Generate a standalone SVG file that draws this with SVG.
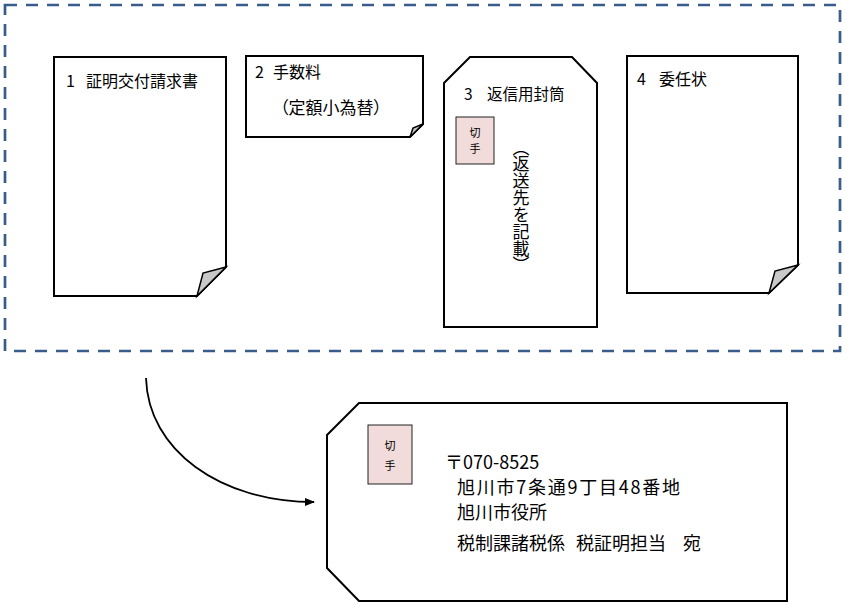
<svg xmlns="http://www.w3.org/2000/svg" width="849" height="613" viewBox="0 0 849 613">
<style>
.doc{fill:#fff;stroke:#000;stroke-width:2;stroke-linejoin:miter}
.fold{fill:#c8c8c8;stroke:#000;stroke-width:1.5;stroke-linejoin:miter}
.stamp{fill:#f2dcdb;stroke:#222;stroke-width:1}
text{font-family:"Noto Sans CJK JP","Noto Sans",sans-serif;fill:#000}
.t{font-size:16px}
.s{font-size:11px;text-anchor:middle}
.a{font-size:18px}
</style>
<defs>
<marker id="arr" markerWidth="10" markerHeight="10" refX="9" refY="5" orient="auto" markerUnits="userSpaceOnUse">
<path d="M0,1 L10,5 L0,9 Z" fill="#000"/>
</marker>
</defs>
<rect x="5" y="5" width="835" height="346" fill="none" stroke="#385d8a" stroke-width="2.7" stroke-dasharray="12 9"/>
<g id="doc1">
<path class="doc" d="M54,57 H226 V267 L197,296 H54 Z"/>
<path class="fold" d="M197,296 L203,273 L226,267 Z"/>
<text class="t" y="87"><tspan x="66">1</tspan><tspan x="86">証明交付請求書</tspan></text>
</g>
<g id="doc2">
<path class="doc" d="M246,56 H423 V124 L410,137 H246 Z"/>
<path class="fold" d="M410,137 L413,128 L423,124 Z"/>
<text class="t" y="78"><tspan x="255">2</tspan><tspan x="273">手数料</tspan></text>
<text x="280" y="114" style="font-size:17px;font-feature-settings:'palt'">（定額小為替）</text>
</g>
<g id="doc3">
<path class="doc" d="M444,83 L470,57 H572 L597,83 V327 H444 Z"/>
<text class="t" y="100" style="font-size:15.5px"><tspan x="464">3</tspan><tspan x="487">返信用封筒</tspan></text>
<rect class="stamp" x="456" y="117" width="38" height="47"/>
<text class="s" x="475" y="137">切</text>
<text class="s" x="475" y="153">手</text>
<text x="521" y="147" style="font-size:17px;writing-mode:vertical-rl;font-feature-settings:'vpal'">（返送先を記載）</text>
</g>
<g id="doc4">
<path class="doc" d="M627,56 H798 V265 L769,293 H627 Z"/>
<path class="fold" d="M769,293 L775,271 L798,265 Z"/>
<text class="t" y="85"><tspan x="637">4</tspan><tspan x="659">委任状</tspan></text>
</g>
<g id="envelope">
<path class="doc" d="M327,435 L359,403 H787 V601 H359 L327,568 Z"/>
<rect class="stamp" x="368" y="425" width="44" height="59"/>
<text class="s" x="390" y="450">切</text>
<text class="s" x="390" y="470">手</text>
<text x="445" y="469" style="font-size:18px">〒070-8525</text>
<text class="a" x="457" y="494" textLength="223" lengthAdjust="spacing">旭川市7条通9丁目48番地</text>
<text class="a" x="457" y="519">旭川市役所</text>
<text class="a" y="550"><tspan x="457">税制課諸税係</tspan><tspan x="576">税証明担当</tspan><tspan x="683">宛</tspan></text>
</g>
<g id="connectors">
<path d="M146,378 C148,450 220,502 314,502" fill="none" stroke="#000" stroke-width="1.8" marker-end="url(#arr)"/>
</g>
</svg>
